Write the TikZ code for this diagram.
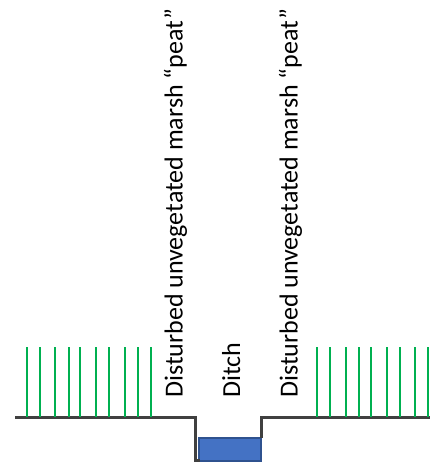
\documentclass[tikz,border=0pt]{standalone}
\usepackage{fontspec}
\setmainfont{Carlito}
\definecolor{groundgray}{HTML}{404040}
\definecolor{grassgreen}{HTML}{00B050}
\definecolor{waterblue}{HTML}{4472C4}
\definecolor{wateredge}{HTML}{2F528F}
\tikzset{
  ground/.style={draw=groundgray, line width=3pt, line join=miter},
  grass/.style={draw=grassgreen, line width=1.8pt},
  water/.style={fill=waterblue, draw=wateredge, line width=1.2pt},
  sidelabel/.style={rotate=90, anchor=base west, inner sep=0pt, font=\fontsize{26}{30}\selectfont}
}
\begin{document}
\begin{tikzpicture}[x=1pt, y=-1pt]
  \useasboundingbox (0,0) rectangle (430,464);
  % water in the ditch
  \draw[water] (199,438) rectangle (261,461);
  % marsh surface with the ditch cut into it
  \draw[ground] (15,417) -- (195,417) -- (195,460) -- (200,460);
  \draw[ground] (261,438) -- (261,417) -- (430,417);
  % vegetation on the left bank
  \foreach \x in {26.7,40,55.3,68.7,80.3,96,109.3,125.3,138.3,150.7}
    \draw[grass] (\x,347) -- (\x,417);
  % vegetation on the right bank
  \foreach \x in {317,330,345.7,359,370.7,386.7,399.7,415.3,428.3}
    \draw[grass] (\x,347) -- (\x,417);
  % labels
  \node[sidelabel] (peatleft) at (182.5,398) {Disturbed unvegetated marsh “peat”};
  \node[sidelabel] (ditch) at (240,398) {Ditch};
  \node[sidelabel] (peatright) at (297.5,398) {Disturbed unvegetated marsh “peat”};
\end{tikzpicture}
\end{document}
